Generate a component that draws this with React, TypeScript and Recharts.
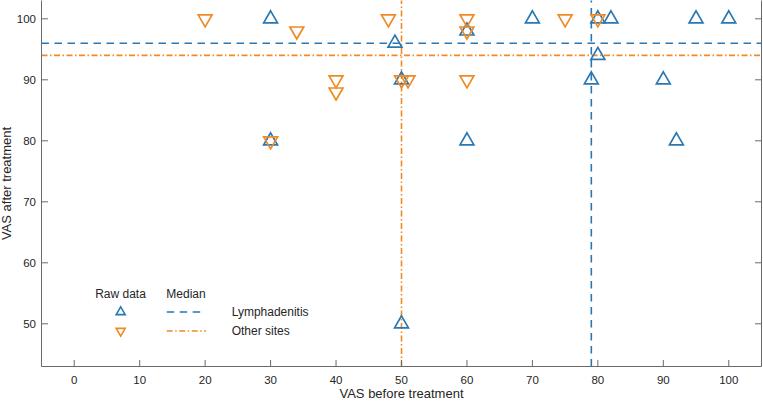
import React from 'react';
import { ScatterChart, Scatter, XAxis, YAxis, ReferenceLine } from 'recharts';

// raw data (before / after treatment VAS)
const lymphBefore = [30, 49, 60, 50, 30, 60, 50, 70, 80, 82, 80, 79, 95, 100, 90, 92];
const lymphAfter = [100, 96, 98, 90, 80, 80, 50, 100, 100, 100, 94, 90, 100, 100, 90, 80];
const otherBefore = [20, 34, 48, 60, 60, 40, 40, 50, 51, 60, 30, 75, 80];
const otherAfter = [100, 98, 100, 100, 98, 90, 88, 90, 90, 90, 80, 100, 100];

// medians: [Lymphadenitis, Other sites]
const medianBefore = [79, 50];
const medianAfter = [96, 94];
const groupNames = ['Lymphadenitis', 'Other sites'];

const xTicks = [0, 10, 20, 30, 40, 50, 60, 70, 80, 90, 100];
const yTicks = [50, 60, 70, 80, 90, 100];
const xDomain = [-5, 105];
const yDomain = [43, 103];

const BLUE = '#2a78b3';
const ORANGE = '#ef8a25';
const AXIS = '#6a6a6a';
const TEXT = '#262626';
const FONT = '"Liberation Sans", Arial, Helvetica, sans-serif';
const BLUE_DASH = '7.5 5.5';
const ORANGE_DASH = '6 2.5 1.5 2.5';
const TICK_LEN = 6.5;

const lymphData = lymphBefore.map((x, i) => ({ x, y: lymphAfter[i] }));
const otherData = otherBefore.map((x, i) => ({ x, y: otherAfter[i] }));

function trianglePath(cx: number, cy: number, r: number, up: boolean) {
  const h = 0.866 * r;
  const s = up ? 1 : -1;
  return `M${cx},${cy - s * r} L${cx + h},${cy + (s * r) / 2} L${cx - h},${cy + (s * r) / 2} Z`;
}

const UpMarker = (p: any) => (
  <path d={trianglePath(p.cx, p.cy, 8, true)} fill="none" stroke={BLUE} strokeWidth={1.7} strokeLinejoin="miter" />
);
const DownMarker = (p: any) => (
  <path d={trianglePath(p.cx, p.cy, 8, false)} fill="none" stroke={ORANGE} strokeWidth={1.7} strokeLinejoin="miter" />
);

// ticks point into the plot, labels sit outside
const BottomTick = (p: any) => {
  const axisY = p.y - 9;
  return (
    <g>
      <line x1={p.x} x2={p.x} y1={axisY} y2={axisY - TICK_LEN} stroke={AXIS} />
      <text x={p.x} y={p.y} dy="0.71em" textAnchor="middle" fontSize={11.5} fill={TEXT} fontFamily={FONT}>
        {p.payload.value}
      </text>
    </g>
  );
};
const LeftTick = (p: any) => {
  const axisX = p.x + 5.5;
  return (
    <g>
      <line x1={axisX} x2={axisX + TICK_LEN} y1={p.y} y2={p.y} stroke={AXIS} />
      <text x={p.x} y={p.y} dy="0.36em" textAnchor="end" fontSize={11.5} fill={TEXT} fontFamily={FONT}>
        {p.payload.value}
      </text>
    </g>
  );
};
const TopTick = (p: any) => <line x1={p.x} x2={p.x} y1={p.y} y2={p.y + TICK_LEN} stroke={AXIS} />;
const RightTick = (p: any) => <line x1={p.x} x2={p.x - TICK_LEN} y1={p.y} y2={p.y} stroke={AXIS} />;

function LegendBox() {
  const colors = [BLUE, ORANGE];
  const dashes = [BLUE_DASH, ORANGE_DASH];
  const rows = [312, 331];
  return (
    <svg width={763} height={402} style={{ position: 'absolute', left: 0, top: 0, pointerEvents: 'none' }}>
      <g fontFamily={FONT} fontSize={12} fill={TEXT}>
        <text x={120.5} y={294} dy="0.36em" textAnchor="middle">Raw data</text>
        <text x={186} y={294} dy="0.36em" textAnchor="middle">Median</text>
        {groupNames.map((name, i) => (
          <g key={name}>
            <path d={trianglePath(120.7, rows[i], 5.2, i === 0)} fill="none" stroke={colors[i]} strokeWidth={1.6} />
            <line x1={166.7} x2={i === 0 ? 202 : 206} y1={rows[i]} y2={rows[i]} stroke={colors[i]} strokeWidth={1.6} strokeDasharray={dashes[i]} />
            <text x={231.7} y={rows[i]} dy="0.36em">{name}</text>
          </g>
        ))}
      </g>
    </svg>
  );
}

export default function App() {
  return (
    <div style={{ position: 'absolute', left: 0, top: 0, width: 763, height: 402, background: '#fff' }}>
      <ScatterChart width={763} height={402} margin={{ top: 0.5, right: 0.5, bottom: 0, left: 0 }}>
        <XAxis
          dataKey="x"
          type="number"
          domain={xDomain}
          ticks={xTicks}
          interval={0}
          allowDataOverflow
          height={35.5}
          tickSize={0}
          tickMargin={9}
          tickLine={false}
          tick={<BottomTick />}
          stroke={AXIS}
          label={{ value: 'VAS before treatment', position: 'insideBottom', offset: 4, fill: TEXT, fontSize: 13, fontFamily: FONT }}
        />
        <XAxis
          xAxisId="top"
          orientation="top"
          type="number"
          domain={xDomain}
          ticks={xTicks}
          interval={0}
          allowDataOverflow
          height={0}
          tickSize={0}
          tickMargin={0}
          tickLine={false}
          tick={<TopTick />}
          stroke={AXIS}
        />
        <YAxis
          dataKey="y"
          type="number"
          domain={yDomain}
          ticks={yTicks}
          interval={0}
          allowDataOverflow
          width={41.5}
          tickSize={0}
          tickMargin={5.5}
          tickLine={false}
          tick={<LeftTick />}
          stroke={AXIS}
          label={{
            value: 'VAS after treatment',
            angle: -90,
            position: 'insideLeft',
            offset: 6.5,
            fill: TEXT,
            fontSize: 13,
            fontFamily: FONT,
            style: { textAnchor: 'middle' },
          }}
        />
        <YAxis
          yAxisId="right"
          orientation="right"
          type="number"
          domain={yDomain}
          ticks={yTicks}
          interval={0}
          allowDataOverflow
          width={1}
          tickSize={0}
          tickMargin={0}
          tickLine={false}
          tick={<RightTick />}
          stroke={AXIS}
        />
        <Scatter name={groupNames[0]} data={lymphData} shape={UpMarker} isAnimationActive={false} />
        <Scatter name={groupNames[1]} data={otherData} shape={DownMarker} isAnimationActive={false} />
        <ReferenceLine x={medianBefore[0]} stroke={BLUE} strokeWidth={1.6} strokeDasharray={BLUE_DASH} />
        <ReferenceLine y={medianAfter[0]} stroke={BLUE} strokeWidth={1.6} strokeDasharray={BLUE_DASH} />
        <ReferenceLine x={medianBefore[1]} stroke={ORANGE} strokeWidth={1.6} strokeDasharray={ORANGE_DASH} />
        <ReferenceLine y={medianAfter[1]} stroke={ORANGE} strokeWidth={1.6} strokeDasharray={ORANGE_DASH} />
      </ScatterChart>
      <LegendBox />
    </div>
  );
}
